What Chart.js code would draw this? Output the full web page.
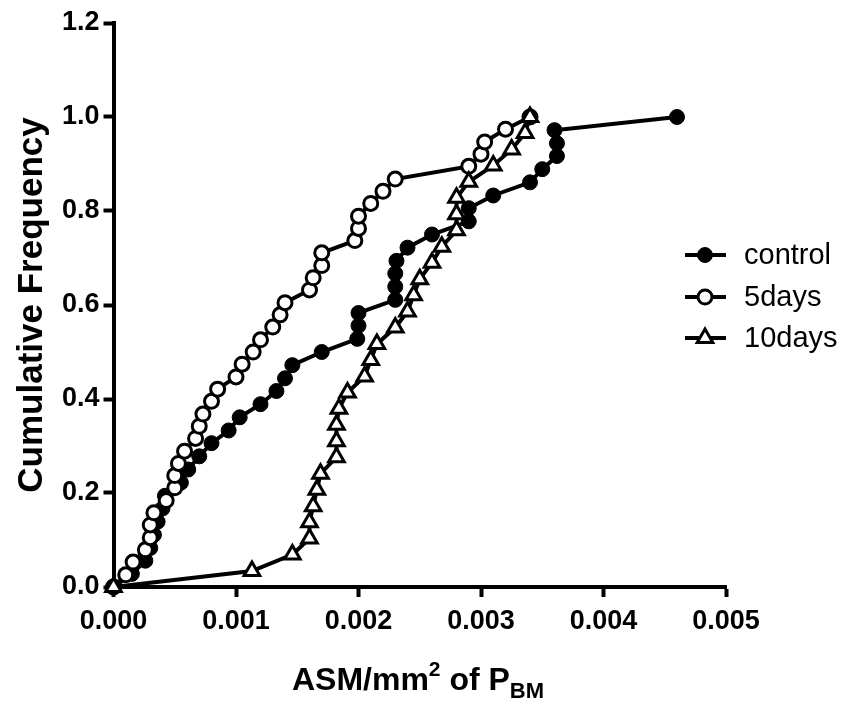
<!DOCTYPE html>
<html>
<head>
<meta charset="utf-8">
<script src="https://cdn.jsdelivr.net/npm/chart.js@4.4.0/dist/chart.umd.min.js"></script>
<style>
    html, body { margin: 0; padding: 0; background: #fff; }
    #wrap { width: 844px; height: 704px; }
</style>
</head>
<body>
<div id="wrap"><canvas id="cumFreq" width="844" height="704"></canvas></div>
<script>
var seriesLabels = ["control", "5days", "10days"];

var xTicks = [0, 0.001, 0.002, 0.003, 0.004, 0.005];
var yTicks = [0, 0.2, 0.4, 0.6, 0.8, 1.0, 1.2];

var controlX = [0, 0.00015, 0.00026, 0.0003, 0.00033, 0.00036, 0.0004, 0.00042, 0.00055, 0.00061,
    0.0007, 0.0008, 0.00094, 0.00103, 0.0012, 0.00133, 0.0014, 0.00146, 0.0017, 0.00199,
    0.002, 0.002, 0.0023, 0.0023, 0.0023, 0.00231, 0.0024, 0.0026, 0.0029, 0.0029,
    0.0031, 0.0034, 0.0035, 0.00362, 0.00362, 0.0036, 0.0046];
var controlY = [0, 0.028, 0.056, 0.083, 0.111, 0.139, 0.167, 0.194, 0.222, 0.250,
    0.278, 0.306, 0.333, 0.361, 0.389, 0.417, 0.444, 0.472, 0.500, 0.528,
    0.556, 0.583, 0.611, 0.639, 0.667, 0.694, 0.722, 0.750, 0.778, 0.806,
    0.833, 0.861, 0.889, 0.917, 0.944, 0.972, 1.000];

var days5X = [0, 0.0001, 0.00016, 0.00026, 0.0003, 0.0003, 0.00033, 0.00043, 0.0005, 0.0005,
    0.00053, 0.00058, 0.00067, 0.0007, 0.00073, 0.0008, 0.00085, 0.001, 0.00105, 0.00114,
    0.0012, 0.0013, 0.00136, 0.0014, 0.0016, 0.00163, 0.0017, 0.0017, 0.00197, 0.002,
    0.002, 0.0021, 0.0022, 0.0023, 0.0029, 0.003, 0.00303, 0.0032, 0.0034];
var days5Y = [0, 0.026, 0.053, 0.079, 0.105, 0.132, 0.158, 0.184, 0.211, 0.237,
    0.263, 0.289, 0.316, 0.342, 0.368, 0.395, 0.421, 0.447, 0.474, 0.500,
    0.526, 0.553, 0.579, 0.605, 0.632, 0.658, 0.684, 0.711, 0.737, 0.763,
    0.789, 0.816, 0.842, 0.868, 0.895, 0.921, 0.947, 0.974, 1.000];

var days10X = [0, 0.00113, 0.00146, 0.0016, 0.0016, 0.00163, 0.00166, 0.00169, 0.00182, 0.00182,
    0.00182, 0.00184, 0.00191, 0.00205, 0.0021, 0.00215, 0.0023, 0.0024, 0.00245, 0.0025,
    0.0026, 0.00268, 0.0028, 0.0028, 0.0028, 0.0029, 0.0031, 0.00325, 0.00336, 0.0034];
var days10Y = [0, 0.034, 0.069, 0.103, 0.138, 0.172, 0.207, 0.241, 0.276, 0.310,
    0.345, 0.379, 0.414, 0.448, 0.483, 0.517, 0.552, 0.586, 0.621, 0.655,
    0.690, 0.724, 0.759, 0.793, 0.828, 0.862, 0.897, 0.931, 0.966, 1.000];

var FONT = "'Liberation Sans', Arial, Helvetica, sans-serif";

function pairs(xs, ys) {
    var out = [];
    for (var i = 0; i < xs.length; i++) out.push({x: xs[i], y: ys[i]});
    return out;
}

function drawMarker(ctx, style, x, y, r) {
    ctx.beginPath();
    if (style === "triangle") {
        ctx.moveTo(x, y - r);
        ctx.lineTo(x + r * 0.866, y + r * 0.5);
        ctx.lineTo(x - r * 0.866, y + r * 0.5);
        ctx.closePath();
    } else {
        ctx.arc(x, y, r, 0, Math.PI * 2);
    }
}

// titles and legend are drawn by hand (super/subscripts, line+marker keys)
var decorPlugin = {
    id: "decor",
    afterDraw: function(chart) {
        var ctx = chart.ctx;
        ctx.save();
        ctx.fillStyle = "#000";

        // y title
        ctx.save();
        ctx.translate(32, 305);
        ctx.rotate(-Math.PI / 2);
        ctx.font = "bold 35px " + FONT;
        ctx.textAlign = "center";
        ctx.textBaseline = "middle";
        ctx.fillText("Cumulative Frequency", 0, 0);
        ctx.restore();

        // x title: ASM/mm^2 of P_BM
        var parts = [
            {t: "ASM/mm", size: 32, dy: 0},
            {t: "2", size: 21, dy: -14},
            {t: " of P", size: 32, dy: 0},
            {t: "BM", size: 22, dy: 8}
        ];
        var total = 0;
        parts.forEach(function(p) {
            ctx.font = "bold " + p.size + "px " + FONT;
            p.w = ctx.measureText(p.t).width;
            total += p.w;
        });
        var x = 418 - total / 2;
        ctx.textBaseline = "alphabetic";
        ctx.textAlign = "left";
        parts.forEach(function(p) {
            ctx.font = "bold " + p.size + "px " + FONT;
            ctx.fillText(p.t, x, 690 + p.dy);
            x += p.w;
        });

        // legend
        var rows = [255, 297, 338];
        chart.data.datasets.forEach(function(ds, i) {
            var y = rows[i];
            ctx.strokeStyle = "#000";
            ctx.lineWidth = 4;
            ctx.beginPath();
            ctx.moveTo(685, y);
            ctx.lineTo(726, y);
            ctx.stroke();
            drawMarker(ctx, ds.pointStyle, 705, y, ds.pointRadius);
            ctx.fillStyle = ds.pointBackgroundColor;
            ctx.fill();
            ctx.lineWidth = ds.pointBorderWidth;
            ctx.stroke();
            ctx.fillStyle = "#000";
            ctx.font = "29px " + FONT;
            ctx.textBaseline = "middle";
            ctx.fillText(ds.label, 744, y + 1);
        });
        ctx.restore();
    }
};

function makeSet(label, xs, ys, style, fill, r, order) {
    return {
        label: label,
        data: pairs(xs, ys),
        borderColor: "#000",
        borderWidth: 4,
        pointStyle: style,
        pointRadius: r,
        pointHoverRadius: r,
        pointBackgroundColor: fill,
        pointBorderColor: "#000",
        pointBorderWidth: style === "circle" && fill === "#000" ? 1 : 3,
        tension: 0,
        clip: false,
        order: order
    };
}

var ctx = document.getElementById("cumFreq");
var myChart = new Chart(ctx, {
    type: "line",
    data: {
        datasets: [
            makeSet(seriesLabels[0], controlX, controlY, "circle", "#000", 7.5, 2),
            makeSet(seriesLabels[1], days5X, days5Y, "circle", "#fff", 7, 1),
            makeSet(seriesLabels[2], days10X, days10Y, "triangle", "#fff", 9, 0)
        ]
    },
    options: {
        responsive: false,
        animation: false,
        events: [],
        layout: { padding: { left: 0, right: 118, top: 23, bottom: 0 } },
        plugins: { legend: { display: false }, tooltip: { enabled: false } },
        scales: {
            x: {
                type: "linear",
                min: xTicks[0],
                max: xTicks[xTicks.length - 1],
                afterBuildTicks: function(scale) {
                    scale.ticks = xTicks.map(function(v) { return {value: v}; });
                },
                afterFit: function(scale) { scale.height = 117; },
                border: { display: true, color: "#000", width: 4 },
                grid: { drawOnChartArea: false, drawTicks: true, tickLength: 10, tickWidth: 4, tickColor: "#000" },
                ticks: {
                    color: "#000",
                    padding: 8,
                    maxRotation: 0,
                    font: { family: FONT, size: 27, weight: "bold" },
                    callback: function(v) { return v.toFixed(3); }
                }
            },
            y: {
                type: "linear",
                min: yTicks[0],
                max: yTicks[yTicks.length - 1],
                afterBuildTicks: function(scale) {
                    scale.ticks = yTicks.map(function(v) { return {value: v}; });
                },
                afterFit: function(scale) { scale.width = 113.5; },
                border: { display: true, color: "#000", width: 4 },
                grid: { drawOnChartArea: false, drawTicks: true, tickLength: 10, tickWidth: 4, tickColor: "#000" },
                ticks: {
                    color: "#000",
                    padding: 4,
                    font: { family: FONT, size: 27, weight: "bold" },
                    callback: function(v) { return v.toFixed(1); }
                }
            }
        }
    },
    plugins: [decorPlugin]
});
</script>
</body>
</html>
